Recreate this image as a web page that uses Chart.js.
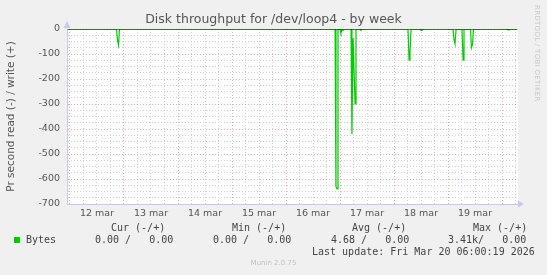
<!DOCTYPE html>
<html>
<head>
<meta charset="utf-8">
<script src="https://cdn.jsdelivr.net/npm/chart.js@4/dist/chart.umd.min.js"></script>
<style>
  body { margin: 0; background: #f0f0f0; }
  #wrap { position: relative; width: 547px; height: 275px; }
  .t { position: absolute; font-family: "DejaVu Sans Mono", monospace; font-size: 10px; line-height: 12px; color: #444; white-space: pre; }
  .sq { position: absolute; left: 14px; top: 237px; width: 6px; height: 6px; background: #00cc00; }
  .munin { position: absolute; left: 0; width: 547px; top: 259px; text-align: center; font-family: "DejaVu Sans", sans-serif; font-size: 7px; color: #c0c0c0; }
  .credit { position: absolute; left: 533px; top: 5px; writing-mode: vertical-rl; font-family: "DejaVu Sans", sans-serif; font-size: 7px; color: #c8c8c8; letter-spacing: 0.3px; }
</style>
</head>
<body>
<div id="wrap">
  <canvas id="chart" width="547" height="275"></canvas>
  <div class="credit">RRDTOOL / TOBI OETIKER</div>
  <div class="t" style="left:111px;top:222px">Cur (-/+)</div>
  <div class="t" style="left:232px;top:222px">Min (-/+)</div>
  <div class="t" style="left:352px;top:222px">Avg (-/+)</div>
  <div class="t" style="left:473px;top:222px">Max (-/+)</div>
  <div class="sq"></div>
  <div class="t" style="left:26px;top:234px">Bytes</div>
  <div class="t" style="left:95px;top:234px">0.00 /   0.00</div>
  <div class="t" style="left:213px;top:234px">0.00 /   0.00</div>
  <div class="t" style="left:331px;top:234px">4.68 /   0.00</div>
  <div class="t" style="left:448px;top:234px">3.41k/   0.00</div>
  <div class="t" style="left:312px;top:246px">Last update: Fri Mar 20 06:00:19 2026</div>
  <div class="munin">Munin 2.0.75</div>
</div>
<script>
// hours since 12 mar 00:00, read bytes per second (negative = read)
const hours = [-1.33, 20.67, 21.11, 21.56, 22.0,
  117.8, 118.2, 118.7, 119.1, 120.0, 120.4, 120.9, 121.3,
  124.9, 125.3, 125.8, 126.2, 126.7, 127.1, 128.9, 129.3, 129.8,
  150.2, 150.7, 151.1, 151.6, 155.6, 156.0, 156.4,
  170.2, 170.7, 171.1, 171.6, 174.2, 174.7, 175.1,
  178.0, 178.4, 178.9, 179.3, 194.2, 194.7, 195.1, 198.9];
const readBytes = [0, 0, -45, -65, 0,
  0, -630, -640, 0, 0, -15, -6, 0,
  0, -420, -37, -37, -300, 0, 0, -4, 0,
  0, -125, -90, 0, 0, -6, 0,
  0, -45, -59, 0, 0, -125, 0,
  0, -75, -60, 0, 0, -4, 0, 0];
const dayLabels = ['12 mar', '13 mar', '14 mar', '15 mar', '16 mar', '17 mar', '18 mar', '19 mar'];
const xMin = -1.33, xMax = 199.1;
const yMin = -700, yMax = 0;

const xTicks = [];
for (let h = 0; h <= 198; h += 6) xTicks.push(h);
const yTicks = [];
for (let v = yMin; v <= yMax; v += 25) yTicks.push(v);

const majorGrid = 'rgba(225,120,120,0.6)';
const minorGrid = 'rgb(210,210,210)';
const axisColor = 'rgb(200,200,240)';

const canvasBg = {
  id: 'canvasBg',
  beforeDraw(chart) {
    const a = chart.chartArea, c = chart.ctx;
    c.save();
    c.fillStyle = '#ffffff';
    c.fillRect(a.left, a.top, a.right - a.left, a.bottom - a.top);
    c.restore();
  },
  afterDraw(chart) {
    const a = chart.chartArea, c = chart.ctx;
    c.save();
    c.fillStyle = axisColor;
    c.beginPath();
    c.moveTo(a.left - 3.5, a.top - 1);
    c.lineTo(a.left + 3.5, a.top - 1);
    c.lineTo(a.left, a.top - 8);
    c.closePath();
    c.fill();
    c.beginPath();
    c.moveTo(a.right, a.bottom - 3.5);
    c.lineTo(a.right, a.bottom + 3.5);
    c.lineTo(a.right + 6, a.bottom);
    c.closePath();
    c.fill();
    c.restore();
  }
};

new Chart(document.getElementById('chart'), {
  type: 'line',
  data: {
    datasets: [{
      label: 'zero',
      data: [{x: xMin + 0.5, y: 0}, {x: xMax - 0.4, y: 0}],
      borderColor: '#000000',
      borderWidth: 1,
      pointRadius: 0
    }, {
      label: 'Bytes',
      data: hours.map((h, i) => ({x: h, y: readBytes[i]})),
      borderColor: '#00cc00',
      borderWidth: 1.2,
      pointRadius: 0,
      tension: 0
    }]
  },
  options: {
    responsive: false,
    animation: false,
    layout: { padding: 0 },
    plugins: {
      legend: { display: false },
      tooltip: { enabled: false },
      title: {
        display: true,
        text: 'Disk throughput for /dev/loop4 - by week',
        color: '#555',
        font: { family: 'DejaVu Sans', size: 12.5, weight: 'normal', lineHeight: 1.2 },
        padding: { top: 12, bottom: 2 }
      }
    },
    scales: {
      x: {
        type: 'linear',
        min: xMin,
        max: xMax,
        afterBuildTicks: s => { s.ticks = xTicks.map(v => ({value: v})); },
        afterFit: s => { s.height = 71; },
        grid: {
          drawTicks: false,
          color: c => (c.tick && c.tick.value % 24 === 0) ? majorGrid : minorGrid
        },
        border: { color: axisColor, dash: [1, 2] },
        ticks: {
          autoSkip: false,
          maxRotation: 0,
          padding: 4,
          color: '#555',
          font: { family: 'DejaVu Sans', size: 9.5 },
          callback: v => (v % 24 === 12) ? dayLabels[(v - 12) / 24] : ''
        }
      },
      y: {
        min: yMin,
        max: yMax,
        afterBuildTicks: s => { s.ticks = yTicks.map(v => ({value: v})); },
        afterFit: s => { s.width = 67; },
        grid: {
          drawTicks: false,
          color: c => (c.tick && c.tick.value % 100 === 0) ? majorGrid : minorGrid
        },
        border: { color: axisColor, dash: [1, 2] },
        title: {
          display: true,
          text: 'Pr second read (-) / write (+)',
          color: '#555',
          font: { family: 'DejaVu Sans', size: 10.5 },
          padding: { top: 5, bottom: 0 }
        },
        ticks: {
          autoSkip: false,
          padding: 7,
          color: '#555',
          font: { family: 'DejaVu Sans', size: 9.5 },
          callback: v => (v % 100 === 0) ? String(v) : ''
        }
      },
      yRight: {
        position: 'right',
        display: true,
        afterFit: s => { s.width = 29; },
        grid: { display: false },
        border: { display: false },
        ticks: { display: false }
      }
    }
  },
  plugins: [canvasBg]
});
</script>
</body>
</html>
